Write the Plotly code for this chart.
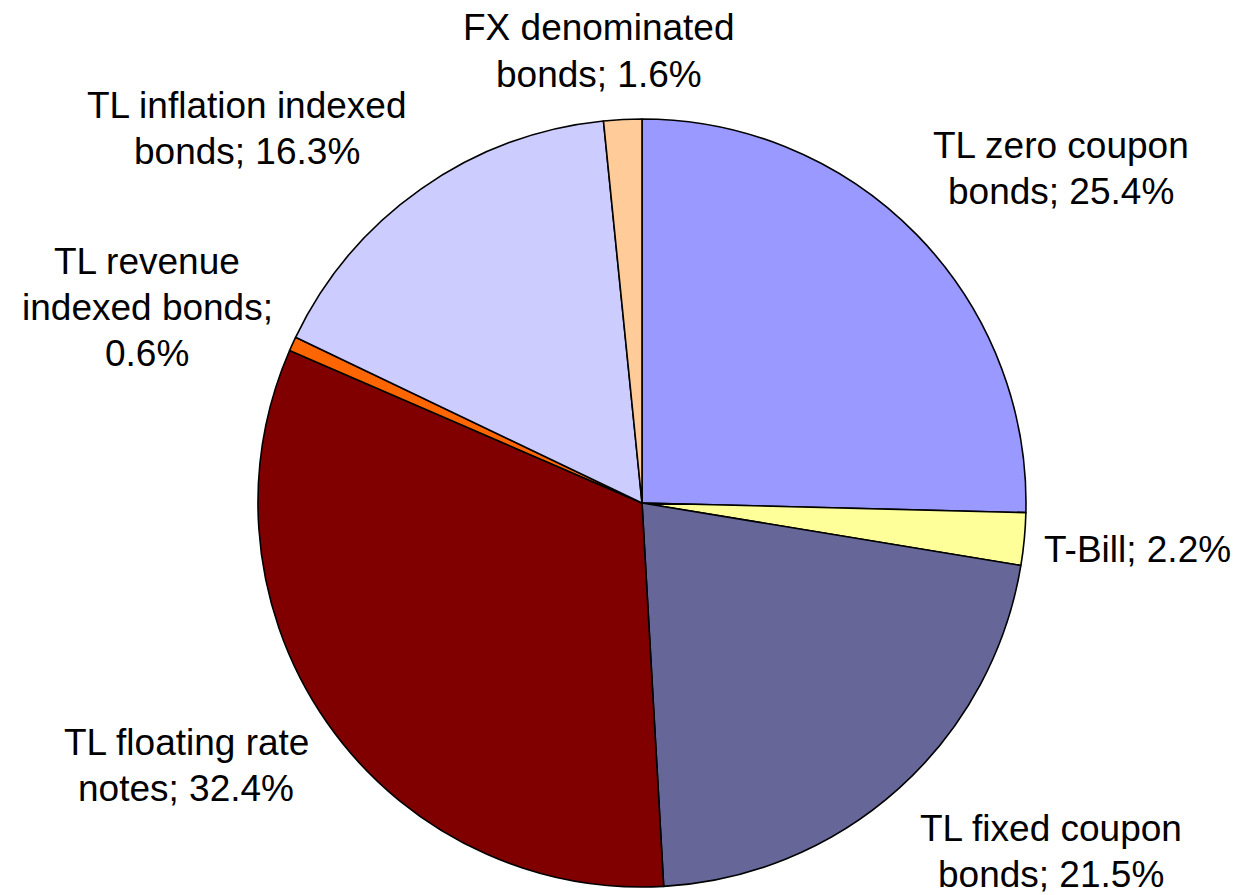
import plotly.graph_objects as go

W, H = 1242, 895

# slices, clockwise from 12 o'clock
categories = ["TL zero coupon bonds", "T-Bill", "TL fixed coupon bonds",
              "TL floating rate notes", "TL revenue indexed bonds",
              "TL inflation indexed bonds", "FX denominated bonds"]
shares = [25.4, 2.2, 21.5, 32.4, 0.6, 16.3, 1.6]
label_lines = [["TL zero coupon", "bonds; 25.4%"],
               ["T-Bill; 2.2%"],
               ["TL fixed coupon", "bonds; 21.5%"],
               ["TL floating rate", "notes; 32.4%"],
               ["TL revenue", "indexed bonds;", "0.6%"],
               ["TL inflation indexed", "bonds; 16.3%"],
               ["FX denominated", "bonds; 1.6%"]]
colors = ["#9999FF", "#FFFF99", "#666699", "#800000", "#FF6600", "#CCCCFF", "#FFCC99"]

# label block centres in pixels (layout only)
label_pos = [(1061, 168), (1137, 549), (1051, 851), (186, 765),
             (147, 307), (247, 128), (599, 51)]
line_gap = 46

cx, cy, r = 642, 503, 384

fig = go.Figure(go.Pie(
    labels=categories, values=shares, sort=False, direction="clockwise",
    rotation=0, marker=dict(colors=colors, line=dict(color="black", width=1.6)),
    textinfo="none", hoverinfo="label+percent", showlegend=False,
    domain=dict(x=[(cx - r) / W, (cx + r) / W], y=[(H - cy - r) / H, (H - cy + r) / H]),
))

annotations = []
for lines, (px, py) in zip(label_lines, label_pos):
    n = len(lines)
    for i, line in enumerate(lines):
        y = py + (i - (n - 1) / 2) * line_gap
        annotations.append(dict(text=line, x=px / W, y=(H - y) / H, xref="paper", yref="paper",
                                xanchor="center", yanchor="middle", showarrow=False,
                                font=dict(family="Liberation Sans, Arial", size=37, color="black")))

fig.update_layout(width=W, height=H, margin=dict(l=0, r=0, t=0, b=0),
                  paper_bgcolor="white", plot_bgcolor="white", annotations=annotations)

fig.write_html("out.html", config={"displayModeBar": False},
               post_script="document.body.style.margin = '0';")
